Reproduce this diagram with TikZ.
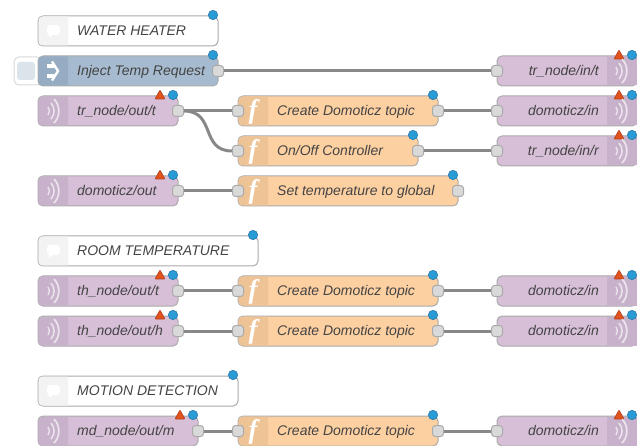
\documentclass[tikz,border=0pt]{standalone}
\usepackage{fontspec}
\setmainfont{Liberation Sans}
\newfontfamily\iconfont{Liberation Serif}
\usepackage{xcolor}
\definecolor{mqtt-light}{RGB}{215,191,215}
\definecolor{mqtt-dark}{RGB}{200,178,203}
\definecolor{func-light}{RGB}{253,208,162}
\definecolor{func-dark}{RGB}{238,196,150}
\definecolor{inject-light}{RGB}{166,187,207}
\definecolor{inject-dark}{RGB}{150,172,194}
\definecolor{note-light}{RGB}{255,255,255}
\definecolor{note-dark}{RGB}{243,243,243}
\definecolor{edge-grey}{RGB}{170,170,170}
\definecolor{wire-grey}{RGB}{136,136,136}
\definecolor{port-grey}{RGB}{217,217,217}
\definecolor{text-dark}{RGB}{68,68,68}
\definecolor{dot-blue}{RGB}{41,156,214}
\definecolor{dot-edge}{RGB}{40,120,170}
\definecolor{warn-red}{RGB}{226,84,30}
\definecolor{warn-edge}{RGB}{180,60,30}

% body, header strip and status marks of one flow node
% #1 name, #2 left, #3 right, #4 middle y, #5 colour stem
\newcommand{\flowbody}[5]{
  \node[flowbox, fill=#5-light, minimum width=#3-#2] (#1) at ({(#2+#3)/2},#4) {};
  \fill[#5-dark] (#2+30,#4-14.5) [rounded corners=4] -- (#2+0.5,#4-14.5) -- (#2+0.5,#4+14.5) [sharp corners] -- (#2+30,#4+14.5) -- cycle;
  \filldraw[dot-blue, draw=dot-edge, line width=0.6] (#3-5,#4-16) circle (4.7);
}
\newcommand{\flowbodyright}[5]{
  \node[flowbox, fill=#5-light, minimum width=#3-#2] (#1) at ({(#2+#3)/2},#4) {};
  \fill[#5-dark] (#3-30,#4-14.5) rectangle (#3-0.5,#4+14.5);
  \filldraw[dot-blue, draw=dot-edge, line width=0.6] (#3-5,#4-16) circle (4.7);
}
\newcommand{\warnmark}[2]{
  \filldraw[warn-red, draw=warn-edge, line width=0.6, rounded corners=0.8] (#1-23,#2-12) -- (#1-18,#2-21) -- (#1-13,#2-12) -- cycle;
}
\newcommand{\waveicon}[2]{
  \draw[white, opacity=0.65, line width=1.3] (#1-5,#2-4) arc (-40:40:6.2 and 6.2);
  \draw[white, opacity=0.65, line width=1.5] (#1-2,#2-8) arc (-42:42:12 and 12);
  \draw[white, opacity=0.65, line width=1.7] (#1+1,#2-12) arc (-44:44:17.3 and 17.3);
}
\newcommand{\funcicon}[3]{
  \node[text=white, font=\iconfont\bfseries\itshape\fontsize{27}{27}\selectfont] (#1) at (#2,#3) {f};
}

\begin{document}
\begin{tikzpicture}[
  x=1pt, y=-1pt,
  flowbox/.style={draw=edge-grey, line width=1, rounded corners=5, minimum height=30, inner sep=0},
  flowtext/.style={text=text-dark, font=\itshape\fontsize{14}{16}\selectfont, inner sep=0, text height=9, text depth=0},
  flowport/.style={draw=edge-grey, fill=port-grey, line width=1, rounded corners=3, minimum width=11, minimum height=11, inner sep=0},
  wire/.style={draw=wire-grey, line width=3}
]
\useasboundingbox (0,0) rectangle (637,446);

% Notes
\flowbody{noteA}{38}{218}{31}{note}
\node[flowtext, anchor=west] (noteAtext) at (77,31) {WATER HEATER};
\flowbody{noteB}{38}{258}{251}{note}
\node[flowtext, anchor=west] (noteBtext) at (77,251) {ROOM TEMPERATURE};
\flowbody{noteC}{38}{238}{391}{note}
\node[flowtext, anchor=west] (noteCtext) at (77,391) {MOTION DETECTION};
\foreach \yy in {31,251,391} {
  \fill[white, rounded corners=3] (47,\yy-6) rectangle (60,\yy+4);
  \fill[white] (49,\yy+3) -- (49,\yy+7) -- (54,\yy+3) -- cycle;
}

% Inject button
\node[draw=port-grey, fill=white, line width=1, rounded corners=5, minimum width=28, minimum height=28, inner sep=0] (injectBtn) at (28,71) {};
\node[fill=inject-light, opacity=0.4, rounded corners=3, minimum width=18, minimum height=18, inner sep=0] (injectKey) at (26,71) {};
\flowbody{inject}{38}{218}{71}{inject}
\node[flowtext, anchor=west] (injecttext) at (77,71) {Inject Temp Request};
\fill[white] (47,64) rectangle (55,68);
\fill[white] (47,74) rectangle (55,78);
\draw[white, line width=2.4] (52,61.5) -- (58,71) -- (52,80.5);

% Inputs
\flowbody{trOut}{38}{178}{111}{mqtt}
\flowbody{dzOut}{38}{178}{191}{mqtt}
\flowbody{thOutT}{38}{178}{291}{mqtt}
\flowbody{thOutH}{38}{178}{331}{mqtt}
\flowbody{mdOut}{38}{198}{431}{mqtt}
\node[flowtext, anchor=west] (trOuttext) at (77,111) {tr\_node/out/t};
\node[flowtext, anchor=west] (dzOuttext) at (77,191) {domoticz/out};
\node[flowtext, anchor=west] (thOutTtext) at (77,291) {th\_node/out/t};
\node[flowtext, anchor=west] (thOutHtext) at (77,331) {th\_node/out/h};
\node[flowtext, anchor=west] (mdOuttext) at (77,431) {md\_node/out/m};
\foreach \xx/\yy in {178/111,178/191,178/291,178/331,198/431} {
  \warnmark{\xx}{\yy}
  \waveicon{53}{\yy}
}

% Functions
\flowbody{ctA}{238}{438}{111}{func}
\flowbody{onoff}{238}{418}{151}{func}
\flowbody{settemp}{238}{458}{191}{func}
\flowbody{ctB}{238}{438}{291}{func}
\flowbody{ctC}{238}{438}{331}{func}
\flowbody{ctD}{238}{438}{431}{func}
\node[flowtext, anchor=west] (ctAtext) at (277,111) {Create Domoticz topic};
\node[flowtext, anchor=west] (onofftext) at (277,151) {On/Off Controller};
\node[flowtext, anchor=west] (settemptext) at (277,191) {Set temperature to global};
\node[flowtext, anchor=west] (ctBtext) at (277,291) {Create Domoticz topic};
\node[flowtext, anchor=west] (ctCtext) at (277,331) {Create Domoticz topic};
\node[flowtext, anchor=west] (ctDtext) at (277,431) {Create Domoticz topic};
\funcicon{fA}{253}{112}
\funcicon{fB}{253}{152}
\funcicon{fC}{253}{192}
\funcicon{fD}{253}{292}
\funcicon{fE}{253}{332}
\funcicon{fF}{253}{432}

% Outputs
\flowbodyright{trInT}{497}{637}{71}{mqtt}
\flowbodyright{dzInA}{497}{637}{111}{mqtt}
\flowbodyright{trInR}{497}{637}{151}{mqtt}
\flowbodyright{dzInB}{497}{637}{291}{mqtt}
\flowbodyright{dzInC}{497}{637}{331}{mqtt}
\flowbodyright{dzInD}{497}{637}{431}{mqtt}
\node[flowtext, anchor=east] (trInTtext) at (599,71) {tr\_node/in/t};
\node[flowtext, anchor=east] (dzInAtext) at (599,111) {domoticz/in};
\node[flowtext, anchor=east] (trInRtext) at (599,151) {tr\_node/in/r};
\node[flowtext, anchor=east] (dzInBtext) at (599,291) {domoticz/in};
\node[flowtext, anchor=east] (dzInCtext) at (599,331) {domoticz/in};
\node[flowtext, anchor=east] (dzInDtext) at (599,431) {domoticz/in};
\foreach \yy in {71,111,151,291,331,431} {
  \warnmark{637}{\yy}
  \waveicon{621}{\yy}
}

% Ports
\foreach \pname/\xx/\yy in {
  injectO/218/71, trOutO/178/111, dzOutO/178/191, thOutTO/178/291, thOutHO/178/331, mdOutO/198/431,
  ctAI/238/111, onoffI/238/151, settempI/238/191, ctBI/238/291, ctCI/238/331, ctDI/238/431,
  ctAO/438/111, onoffO/418/151, settempO/458/191, ctBO/438/291, ctCO/438/331, ctDO/438/431,
  trInTI/497/71, dzInAI/497/111, trInRI/497/151, dzInBI/497/291, dzInCI/497/331, dzInDI/497/431} {
  \node[flowport] (\pname) at (\xx,\yy) {};
}

% Wires
\draw[wire] (injectO) -- (trInTI);
\draw[wire] (trOutO) -- (ctAI);
\draw[wire] (trOutO.east) .. controls +(32,0) and +(-32,0) .. (onoffI.west);
\draw[wire] (ctAO) -- (dzInAI);
\draw[wire] (onoffO) -- (trInRI);
\draw[wire] (dzOutO) -- (settempI);
\draw[wire] (thOutTO) -- (ctBI);
\draw[wire] (ctBO) -- (dzInBI);
\draw[wire] (thOutHO) -- (ctCI);
\draw[wire] (ctCO) -- (dzInCI);
\draw[wire] (mdOutO) -- (ctDI);
\draw[wire] (ctDO) -- (dzInDI);

\end{tikzpicture}
\end{document}
